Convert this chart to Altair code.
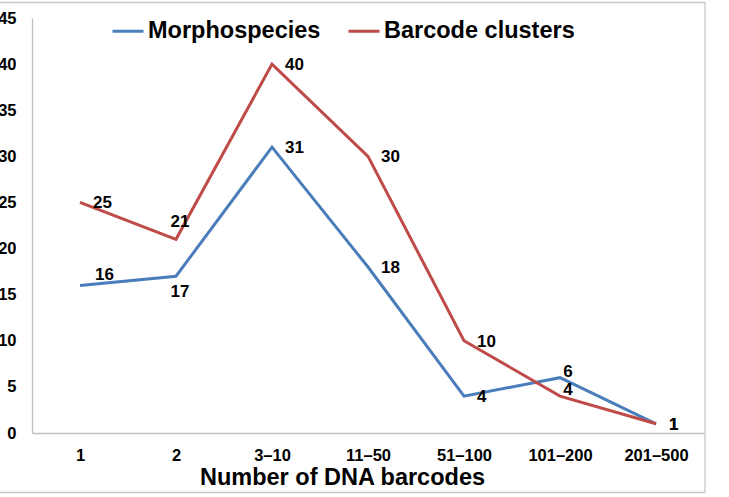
import altair as alt
import pandas as pd

# ---- data ----
categories = ["1", "2", "3–10", "11–50", "51–100", "101–200", "201–500"]
morphospecies = [16, 17, 31, 18, 4, 6, 1]
barcode_clusters = [25, 21, 40, 30, 10, 4, 1]
series_names = ["Morphospecies", "Barcode clusters"]
series_colors = ["#4A7EBB", "#BE4B48"]
y_ticks = [0, 5, 10, 15, 20, 25, 30, 35, 40, 45]
x_title = "Number of DNA barcodes"

# data-label placement keywords (Excel-style label positions)
morph_label_place = ["upper right", "below", "right", "right", "right", "nudge", "right"]
barcode_label_place = ["right", "above", "right", "right", "right", "nudge", "right"]

rows = []
for s, vals, places in [
    (series_names[0], morphospecies, morph_label_place),
    (series_names[1], barcode_clusters, barcode_label_place),
]:
    for c, v, p in zip(categories, vals, places):
        rows.append({"category": c, "value": v, "series": s, "place": p})
df = pd.DataFrame(rows)

FONT = "Liberation Sans"
AXIS_GREY = "#BFBFBF"

base = alt.Chart(df).encode(
    x=alt.X(
        "category:N",
        sort=categories,
        scale=alt.Scale(paddingOuter=0.5),
        axis=alt.Axis(
            title=x_title,
            labelAngle=0,
            ticks=False,
            grid=False,
            domainColor=AXIS_GREY,
            domainWidth=1.3,
            labelFont=FONT,
            labelFontSize=16.5,
            labelFontWeight="bold",
            labelColor="#000000",
            labelPadding=14,
            titleFont=FONT,
            titleFontSize=23.5,
            titleFontWeight="bold",
            titleColor="#000000",
            titleX=310,
            titleY=44,
            titleBaseline="middle",
            titleAlign="center",
        ),
    ),
    y=alt.Y(
        "value:Q",
        scale=alt.Scale(domain=[0, 45], nice=False),
        axis=alt.Axis(
            title=None,
            values=y_ticks,
            ticks=False,
            grid=False,
            domainColor=AXIS_GREY,
            domainWidth=1.3,
            labelFont=FONT,
            labelFontSize=16.5,
            labelFontWeight="bold",
            labelColor="#000000",
            labelPadding=16,
            labelFlush=False,
        ),
    ),
)

lines = base.mark_line(strokeWidth=3).encode(
    color=alt.Color(
        "series:N",
        sort=series_names,
        scale=alt.Scale(domain=series_names, range=series_colors),
        legend=alt.Legend(
            title=None,
            orient="none",
            direction="horizontal",
            legendX=79,
            legendY=-4,
            symbolType="stroke",
            symbolSize=961,
            symbolStrokeWidth=3,
            labelFont=FONT,
            labelFontSize=23.5,
            labelFontWeight="bold",
            labelColor="#000000",
            labelOffset=3,
            labelLimit=400,
            columnPadding=21,
            padding=0,
        ),
    )
)

offsets = {
    "right": dict(align="left", dx=13, dy=1),
    "upper right": dict(align="left", dx=15, dy=-10),
    "above": dict(align="center", dx=4, dy=-17),
    "below": dict(align="center", dx=4, dy=16),
    "nudge": dict(align="center", dx=8, dy=-6),
}

label_layers = []
for key, opts in offsets.items():
    label_layers.append(
        base.transform_filter(alt.datum.place == key)
        .mark_text(
            font=FONT,
            fontSize=17,
            fontWeight="bold",
            color="#000000",
            baseline="middle",
            **opts,
        )
        .encode(text="value:Q")
    )

frame = (
    alt.Chart(pd.DataFrame({"k": [0]}))
    .mark_rect(fillOpacity=0, stroke="#C8C8C8", strokeWidth=1.3)
    .encode(
        x=alt.value(-40),
        x2=alt.value(673),
        y=alt.value(-15.5),
        y2=alt.value(474.5),
    )
)

chart = (
    alt.layer(lines, *label_layers, frame)
    .properties(
        width=672,
        height=415,
        autosize="none",
        padding={"left": 32, "top": 18, "right": 25, "bottom": 64},
        background="#FFFFFF",
    )
    .configure_view(strokeWidth=0)
)

chart.save("out.html", embed_options={"renderer": "svg", "actions": False})
